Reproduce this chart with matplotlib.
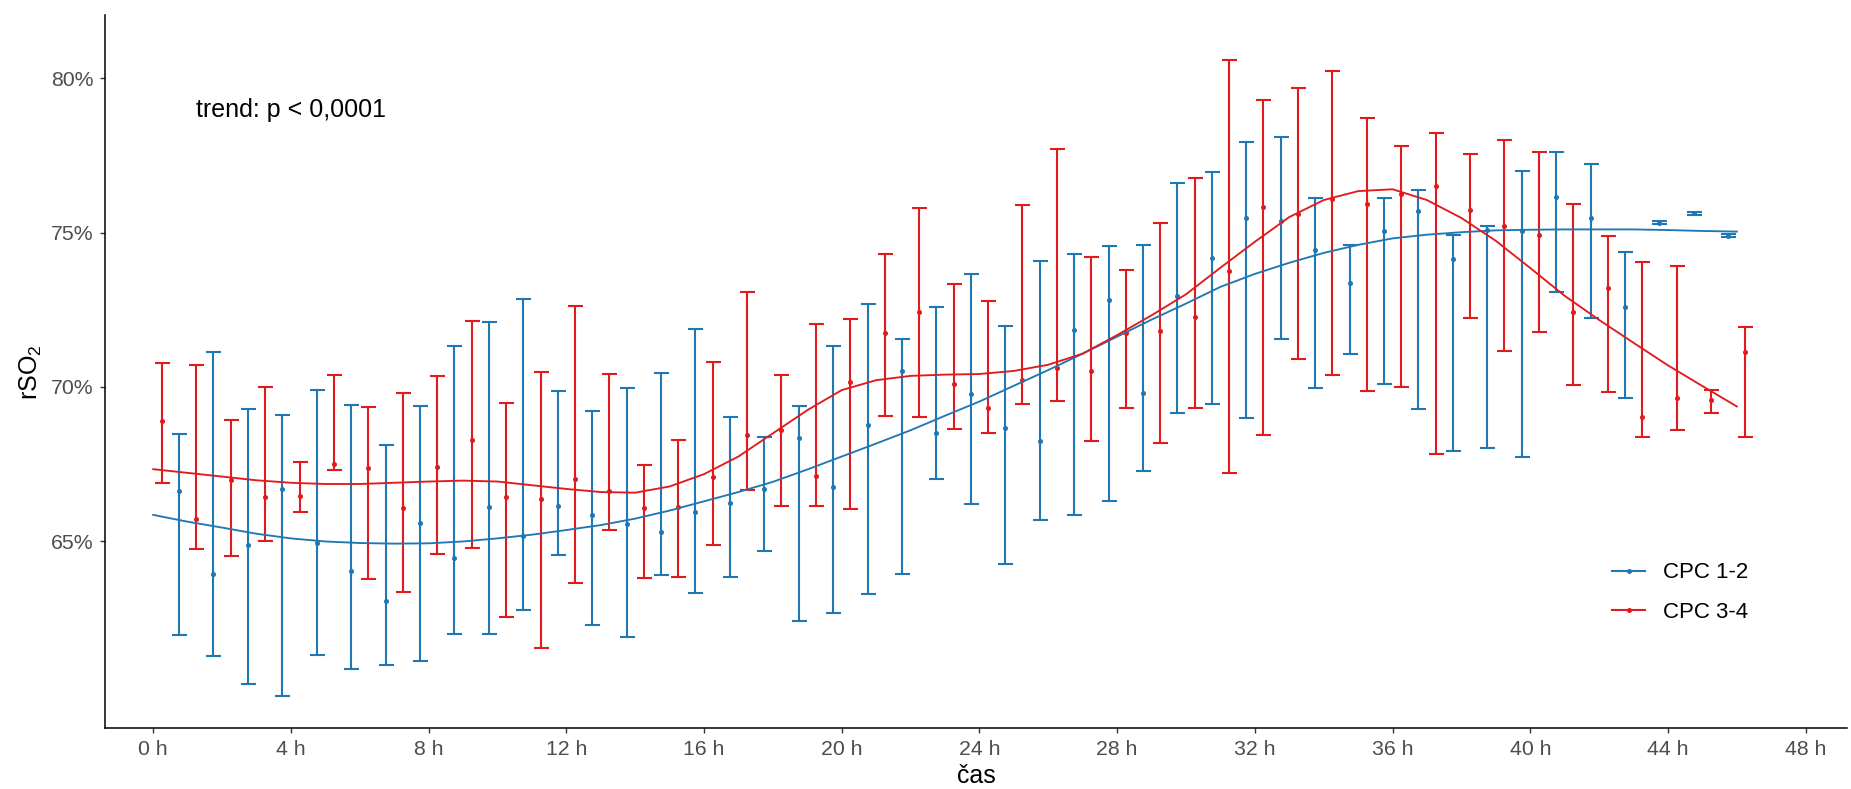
import matplotlib
matplotlib.use("Agg")
import matplotlib.pyplot as plt
from matplotlib.lines import Line2D
import numpy as np

plt.rcParams['font.family'] = ['Liberation Sans', 'DejaVu Sans']
plt.rcParams['mathtext.default'] = 'regular'

# ---------------- data ----------------
series_names = ["CPC 1-2", "CPC 3-4"]
series_colors = ["#1F78B4", "#E31A1C"]

# CPC 1-2 (blue): hourly bins, plotted at hour + 0.75
blue_hours = list(range(0, 46))
blue_mean = [66.63, 63.96, 64.87, 66.71, 64.96, 64.06, 63.06, 65.61, 64.47, 66.10,
             65.19, 66.16, 65.87, 65.56, 65.30, 65.97, 66.24, 66.71, 68.35, 66.75,
             68.77, 70.52, 68.51, 69.77, 68.66, 68.25, 71.86, 72.82, 69.80, 72.96,
             74.18, 75.48, 75.36, 74.44, 73.37, 75.04, 75.69, 74.15, 75.09, 75.06,
             76.16, 75.46, 72.59, 75.32, 75.63, 74.90]
blue_low = [61.97, 61.29, 60.40, 60.01, 61.33, 60.87, 61.00, 61.14, 62.01, 61.99,
            62.77, 64.55, 62.31, 61.92, 63.92, 63.32, 63.86, 64.68, 62.41, 62.70,
            63.29, 63.94, 67.01, 66.21, 64.28, 65.68, 65.87, 66.30, 67.28, 69.16,
            69.45, 69.00, 71.56, 69.96, 71.07, 70.09, 69.29, 67.93, 68.02, 67.75,
            73.06, 72.23, 69.65, 75.27, 75.58, 74.86]
blue_high = [68.48, 71.14, 69.29, 69.10, 69.91, 69.42, 68.12, 69.38, 71.34, 72.10,
             72.86, 69.88, 69.22, 69.97, 70.45, 71.89, 69.02, 68.38, 69.38, 71.33,
             72.69, 71.55, 72.59, 73.67, 71.99, 74.09, 74.31, 74.55, 74.58, 76.60,
             76.95, 77.93, 78.08, 76.11, 74.60, 76.11, 76.39, 74.93, 75.20, 76.98,
             77.62, 77.23, 74.38, 75.37, 75.68, 74.94]

# CPC 3-4 (red): hourly bins, plotted at hour + 0.25
red_hours = list(range(0, 47))
red_mean = [68.90, 65.72, 66.99, 66.43, 66.47, 67.51, 67.38, 66.07, 67.40, 68.29,
            66.43, 66.39, 67.02, 66.63, 66.07, 66.10, 67.08, 68.45, 68.61, 67.12,
            70.16, 71.75, 72.44, 70.09, 69.32, 70.23, 70.61, 70.53, 71.76, 71.82,
            72.27, 73.76, 75.82, 75.61, 76.10, 75.91, 76.26, 76.49, 75.72, 75.22,
            74.91, 72.44, 73.22, 69.02, 69.64, 69.58, 71.14]
red_low = [66.88, 64.75, 64.54, 65.03, 65.94, 67.31, 63.79, 63.37, 64.60, 64.78,
           62.54, 61.55, 63.67, 65.38, 63.82, 63.86, 64.87, 66.68, 66.14, 66.14,
           66.05, 69.05, 69.02, 68.63, 68.50, 69.44, 69.54, 68.25, 69.32, 68.18,
           69.31, 67.21, 68.44, 70.90, 70.38, 69.88, 70.01, 67.82, 72.24, 71.16,
           71.79, 70.06, 69.83, 68.38, 68.61, 69.17, 68.39]
red_high = [70.78, 70.71, 68.93, 69.99, 67.57, 70.39, 69.35, 69.81, 70.36, 72.15,
            69.47, 70.49, 72.63, 70.42, 67.47, 68.27, 70.81, 73.08, 70.40, 72.05,
            72.21, 74.31, 75.79, 73.34, 72.77, 75.90, 77.69, 74.21, 73.79, 75.30,
            76.75, 80.58, 79.29, 79.67, 80.22, 78.71, 77.80, 78.21, 77.54, 77.99,
            77.59, 75.92, 74.90, 74.06, 73.93, 69.90, 71.94]

# smoothed trend curves read at whole hours 0..46
smooth_hours = list(range(0, 47))
blue_smooth = [65.86, 65.64, 65.45, 65.25, 65.10, 65.00, 64.95, 64.93, 64.94, 65.00,
               65.10, 65.22, 65.37, 65.53, 65.74, 66.00, 66.30, 66.60, 66.93, 67.33,
               67.75, 68.17, 68.60, 69.07, 69.53, 70.04, 70.55, 71.08, 71.63, 72.18,
               72.70, 73.24, 73.66, 74.02, 74.34, 74.60, 74.81, 74.93, 75.01, 75.07,
               75.09, 75.10, 75.10, 75.10, 75.08, 75.05, 75.03]
red_smooth = [67.34, 67.22, 67.10, 66.98, 66.90, 66.86, 66.86, 66.90, 66.94, 66.97,
              66.94, 66.82, 66.70, 66.60, 66.58, 66.78, 67.18, 67.75, 68.50, 69.25,
              69.90, 70.22, 70.36, 70.40, 70.42, 70.52, 70.72, 71.08, 71.68, 72.32,
              73.00, 73.86, 74.70, 75.50, 76.05, 76.34, 76.40, 76.05, 75.47, 74.73,
              73.85, 72.95, 72.17, 71.43, 70.70, 70.03, 69.37]

x_ticks = list(range(0, 49, 4))
x_tick_labels = [f"{t} h" for t in x_ticks]
y_ticks = [65, 70, 75, 80]
y_tick_labels = ["65%", "70%", "75%", "80%"]

annotation = "trend: p < 0,0001"
x_title = "čas"
y_title = "rSO$_2$"

# ---------------- figure ----------------
W, H = 1851, 789
fig = plt.figure(figsize=(W / 100, H / 100), dpi=100)
ax = fig.add_axes([105 / W, 1 - 728.4 / H, (1847 - 105) / W, (728.4 - 15) / H])

blue_x = np.array(blue_hours) + 0.75
red_x = np.array(red_hours) + 0.25

def draw(xs, mean, lo, hi, color):
    mean = np.array(mean); lo = np.array(lo); hi = np.array(hi)
    ax.errorbar(xs, mean, yerr=[mean - lo, hi - mean], fmt='o', ms=2.6,
                color=color, ecolor=color, elinewidth=1.5, capsize=5.4,
                capthick=1.5, zorder=3)

draw(blue_x, blue_mean, blue_low, blue_high, series_colors[0])
draw(red_x, red_mean, red_low, red_high, series_colors[1])

ax.plot(smooth_hours, blue_smooth, color=series_colors[0], lw=1.35, zorder=4)
ax.plot(smooth_hours, red_smooth, color=series_colors[1], lw=1.35, zorder=4)

ax.set_xlim(-1.40, 49.2)
ax.set_ylim(58.95, 82.04)

ax.set_xticks(x_ticks)
ax.set_xticklabels(x_tick_labels)
ax.set_yticks(y_ticks)
ax.set_yticklabels(y_tick_labels)

for s in ["top", "right"]:
    ax.spines[s].set_visible(False)
for s in ["left", "bottom"]:
    ax.spines[s].set_linewidth(1.1)
    ax.spines[s].set_color("black")

ax.tick_params(axis="both", length=3.6, width=1.0, color="#333333",
               labelcolor="#4D4D4D", labelsize=15.3, pad=4.5)

ax.text(1.23, 78.96, annotation, ha="left", va="center", fontsize=18, color="black")

fig.text(31 / W, 1 - 372 / H, y_title, rotation=90, ha="center", va="center",
         fontsize=18, color="black")
fig.text(976 / W, 1 - 775.6 / H, x_title, ha="center", va="center",
         fontsize=18, color="black")

handles = [Line2D([0], [0], color=c, lw=1.5, marker='o', ms=2.6) for c in series_colors]
ax.legend(handles, series_names, loc="center left",
          bbox_to_anchor=(1612 / W, 1 - 592.8 / H), bbox_transform=fig.transFigure,
          frameon=False, fontsize=16, handlelength=1.5, handletextpad=0.8,
          labelspacing=0.85, borderpad=0, borderaxespad=0)

fig.savefig("out.png", dpi=100)
